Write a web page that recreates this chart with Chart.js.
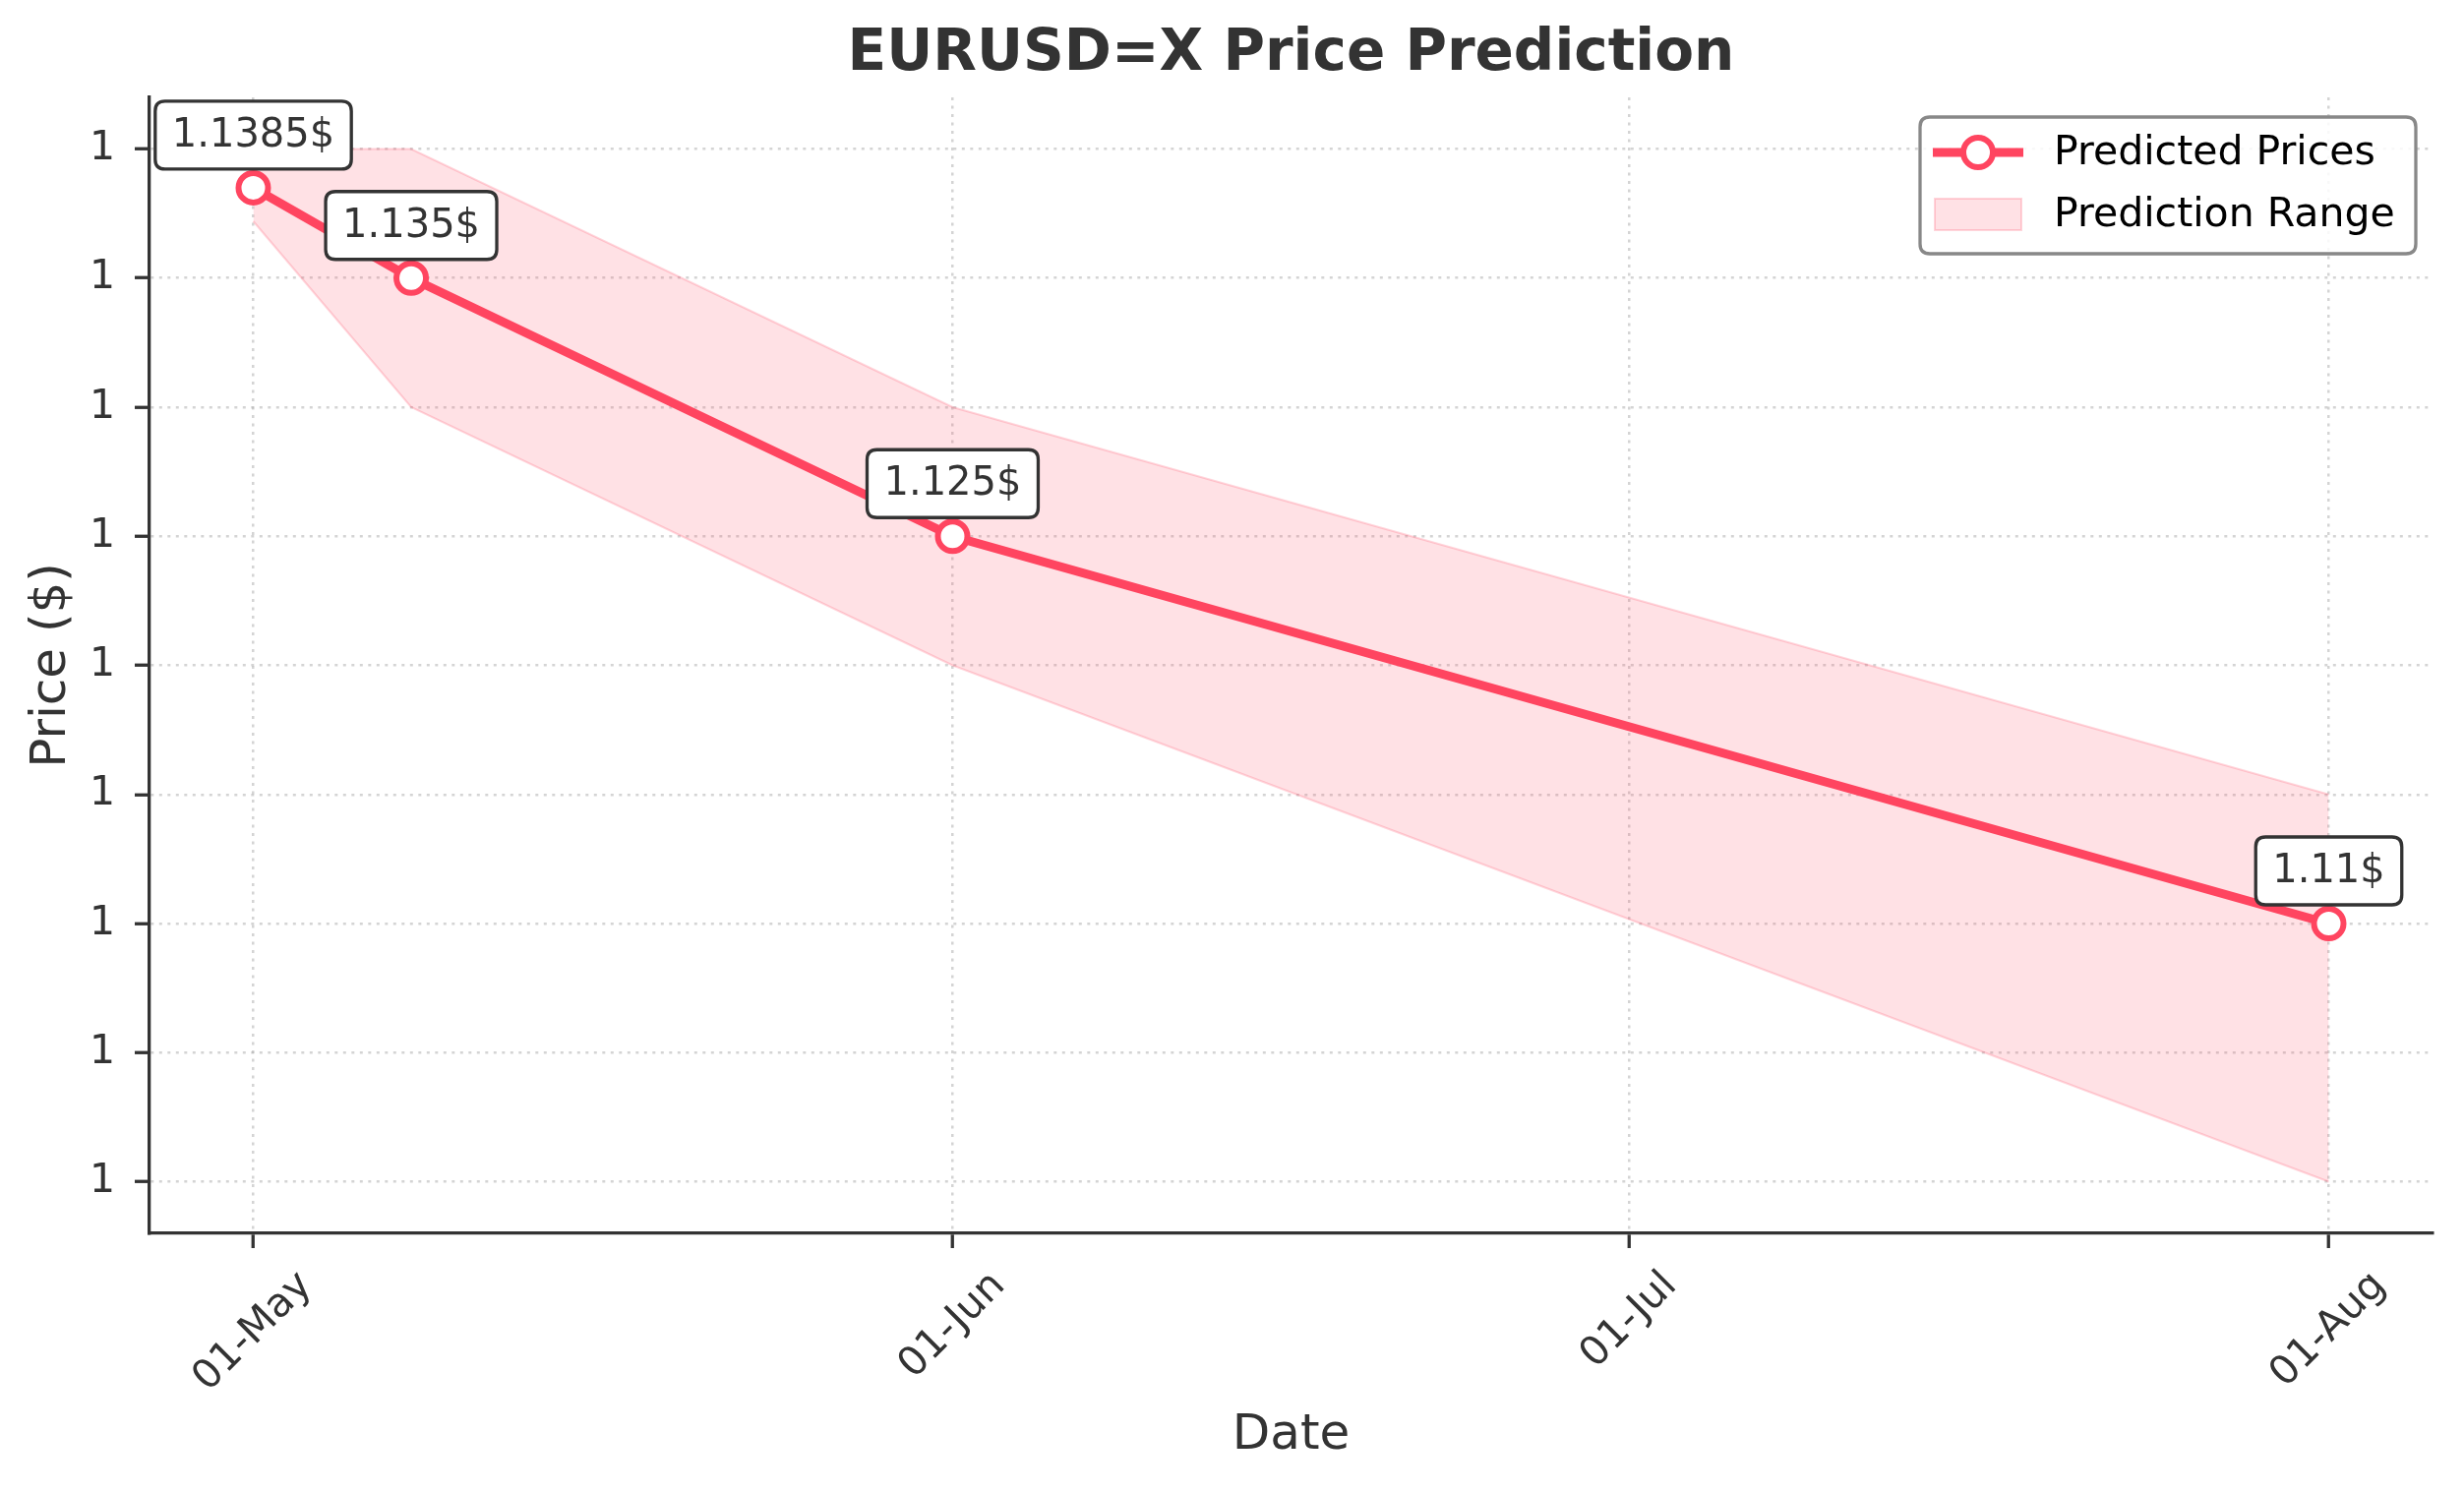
<!DOCTYPE html>
<html>
<head>
<meta charset="utf-8">
<script src="https://cdn.jsdelivr.net/npm/chart.js@4.4.0/dist/chart.umd.min.js"></script>
<style>
  html, body { margin: 0; padding: 0; background: #fff; }
  #wrap { width: 2505px; height: 1517px; position: relative; }
</style>
</head>
<body>
<div id="wrap"><canvas id="priceChart"></canvas></div>
<script>
// days counted from 01-May
const predDays = [0, 7, 31, 92];
const predPrices = [1.1385, 1.135, 1.125, 1.11];
const upperPrices = [1.140, 1.140, 1.130, 1.115];
const lowerPrices = [1.1372, 1.130, 1.120, 1.100];

const xTickDays = [0, 31, 61, 92];
const xTickLabels = ['01-May', '01-Jun', '01-Jul', '01-Aug'];
const yTickValues = [1.100, 1.105, 1.110, 1.115, 1.120, 1.125, 1.130, 1.135, 1.140];
const yTickLabels = ['1', '1', '1', '1', '1', '1', '1', '1', '1'];

const FONT = 'DejaVu Sans';
const lineColor = '#ff4560';
const bandFill = 'rgba(255, 69, 96, 0.16)';
const bandEdge = 'rgba(255, 69, 96, 0.22)';
const gridColor = 'rgba(176, 176, 176, 0.55)';

function toPoints(ys) {
    return predDays.map((d, i) => ({ x: d, y: ys[i] }));
}

function roundRect(ctx, x, y, w, h, r) {
    ctx.beginPath();
    ctx.moveTo(x + r, y);
    ctx.lineTo(x + w - r, y);
    ctx.quadraticCurveTo(x + w, y, x + w, y + r);
    ctx.lineTo(x + w, y + h - r);
    ctx.quadraticCurveTo(x + w, y + h, x + w - r, y + h);
    ctx.lineTo(x + r, y + h);
    ctx.quadraticCurveTo(x, y + h, x, y + h - r);
    ctx.lineTo(x, y + r);
    ctx.quadraticCurveTo(x, y, x + r, y);
    ctx.closePath();
}

// boxed price labels above each predicted point, x tick labels and legend
const labelPlugin = {
    id: 'priceLabels',
    afterDatasetsDraw(chart) {
        const ctx = chart.ctx;
        const xs = chart.scales.x, ys = chart.scales.y;
        ctx.save();
        ctx.font = '40px "' + FONT + '"';
        ctx.textAlign = 'center';
        ctx.textBaseline = 'middle';
        predPrices.forEach((p, i) => {
            const px = xs.getPixelForValue(predDays[i]);
            const py = ys.getPixelForValue(p);
            const text = p + '$';
            const w = ctx.measureText(text).width + 34;
            const h = 69;
            const bx = px - w / 2, by = py - 19 - h;
            roundRect(ctx, bx, by, w, h, 10);
            ctx.fillStyle = '#fff';
            ctx.fill();
            ctx.lineWidth = 3.3;
            ctx.strokeStyle = '#333';
            ctx.stroke();
            ctx.fillStyle = '#333';
            ctx.fillText(text, px, by + h / 2 + 1);
        });
        ctx.restore();
    },
    afterDraw(chart) {
        const ctx = chart.ctx;
        const xs = chart.scales.x;
        const area = chart.chartArea;
        ctx.save();

        // rotated x tick labels, centred under their ticks
        ctx.font = '41px "' + FONT + '"';
        ctx.fillStyle = '#333';
        ctx.textAlign = 'center';
        ctx.textBaseline = 'middle';
        const top = area.bottom + 15 + 15;
        xTickLabels.forEach((lab, i) => {
            const px = xs.getPixelForValue(xTickDays[i]);
            const w = ctx.measureText(lab).width;
            const cy = top + (w + 47.7) * 0.3535;
            ctx.save();
            ctx.translate(px, cy);
            ctx.rotate(-Math.PI / 4);
            ctx.fillText(lab, 0, 0);
            ctx.restore();
        });

        // legend
        const lx = 1952, ly = 119, lw = 504, lh = 139;
        roundRect(ctx, lx, ly, lw, lh, 10);
        ctx.fillStyle = 'rgba(255,255,255,0.85)';
        ctx.fill();
        ctx.lineWidth = 3.3;
        ctx.strokeStyle = '#888';
        ctx.stroke();

        const r1 = 155, r2 = 218;
        ctx.beginPath();
        ctx.moveTo(1965, r1);
        ctx.lineTo(2057, r1);
        ctx.lineWidth = 9;
        ctx.strokeStyle = lineColor;
        ctx.stroke();
        ctx.beginPath();
        ctx.arc(2011, r1, 15, 0, Math.PI * 2);
        ctx.fillStyle = '#fff';
        ctx.fill();
        ctx.lineWidth = 6;
        ctx.stroke();

        ctx.fillStyle = bandFill;
        ctx.fillRect(1967, r2 - 16, 88, 32);
        ctx.lineWidth = 2;
        ctx.strokeStyle = bandEdge;
        ctx.strokeRect(1967, r2 - 16, 88, 32);

        ctx.font = '41px "' + FONT + '"';
        ctx.fillStyle = '#000';
        ctx.textAlign = 'left';
        ctx.textBaseline = 'middle';
        ctx.fillText('Predicted Prices', 2088, r1 + 1);
        ctx.fillText('Prediction Range', 2088, r2 + 1);
        ctx.restore();
    }
};

const ctx = document.getElementById('priceChart').getContext('2d');
const priceChart = new Chart(ctx, {
    type: 'line',
    data: {
        datasets: [
            {
                label: 'Predicted Prices',
                data: toPoints(predPrices),
                borderColor: lineColor,
                borderWidth: 9,
                pointRadius: 15,
                pointBorderWidth: 6,
                pointBackgroundColor: '#fff',
                pointBorderColor: lineColor,
                tension: 0,
                fill: false
            },
            {
                label: 'Lower',
                data: toPoints(lowerPrices),
                borderColor: bandEdge,
                borderWidth: 2,
                pointRadius: 0,
                fill: false
            },
            {
                label: 'Prediction Range',
                data: toPoints(upperPrices),
                borderColor: bandEdge,
                borderWidth: 2,
                pointRadius: 0,
                backgroundColor: bandFill,
                fill: '-1'
            }
        ]
    },
    options: {
        responsive: true,
        maintainAspectRatio: false,
        devicePixelRatio: 1,
        animation: false,
        layout: { padding: { left: 0, right: 32, top: 0, bottom: 0 } },
        plugins: {
            legend: { display: false },
            tooltip: { enabled: false },
            title: {
                display: true,
                text: 'EURUSD=X Price Prediction',
                fullSize: false,
                color: '#333',
                font: { family: FONT, size: 58, weight: 'bold' },
                padding: { top: 21, bottom: 8.4 }
            }
        },
        scales: {
            x: {
                type: 'linear',
                min: -4.6,
                max: 96.6,
                afterBuildTicks: s => { s.ticks = xTickDays.map(v => ({ value: v })); },
                afterFit: s => { s.height = 263; },
                ticks: { display: false },
                grid: {
                    color: gridColor, lineWidth: 2.5,
                    tickLength: 15, tickColor: '#333', tickWidth: 3.3, tickBorderDash: []
                },
                border: { color: '#333', width: 3.3, dash: [3, 5.5] },
                title: {
                    display: true, text: 'Date', color: '#333',
                    font: { family: FONT, size: 50 },
                    padding: { top: 161, bottom: 27 }
                }
            },
            y: {
                min: 1.098,
                max: 1.142,
                afterBuildTicks: s => { s.ticks = yTickValues.map(v => ({ value: v })); },
                afterFit: s => { s.width = 152; },
                ticks: {
                    callback: (v, i) => yTickLabels[i],
                    color: '#333',
                    font: { family: FONT, size: 41 },
                    padding: 20,
                    autoSkip: false
                },
                grid: {
                    color: gridColor, lineWidth: 2.5,
                    tickLength: 15, tickColor: '#333', tickWidth: 3.3, tickBorderDash: []
                },
                border: { color: '#333', width: 3.3, dash: [3, 5.5] },
                title: {
                    display: true, text: 'Price ($)', color: '#333',
                    font: { family: FONT, size: 50 },
                    padding: { top: 23, bottom: 8 }
                }
            }
        }
    },
    plugins: [labelPlugin]
});
</script>
</body>
</html>
